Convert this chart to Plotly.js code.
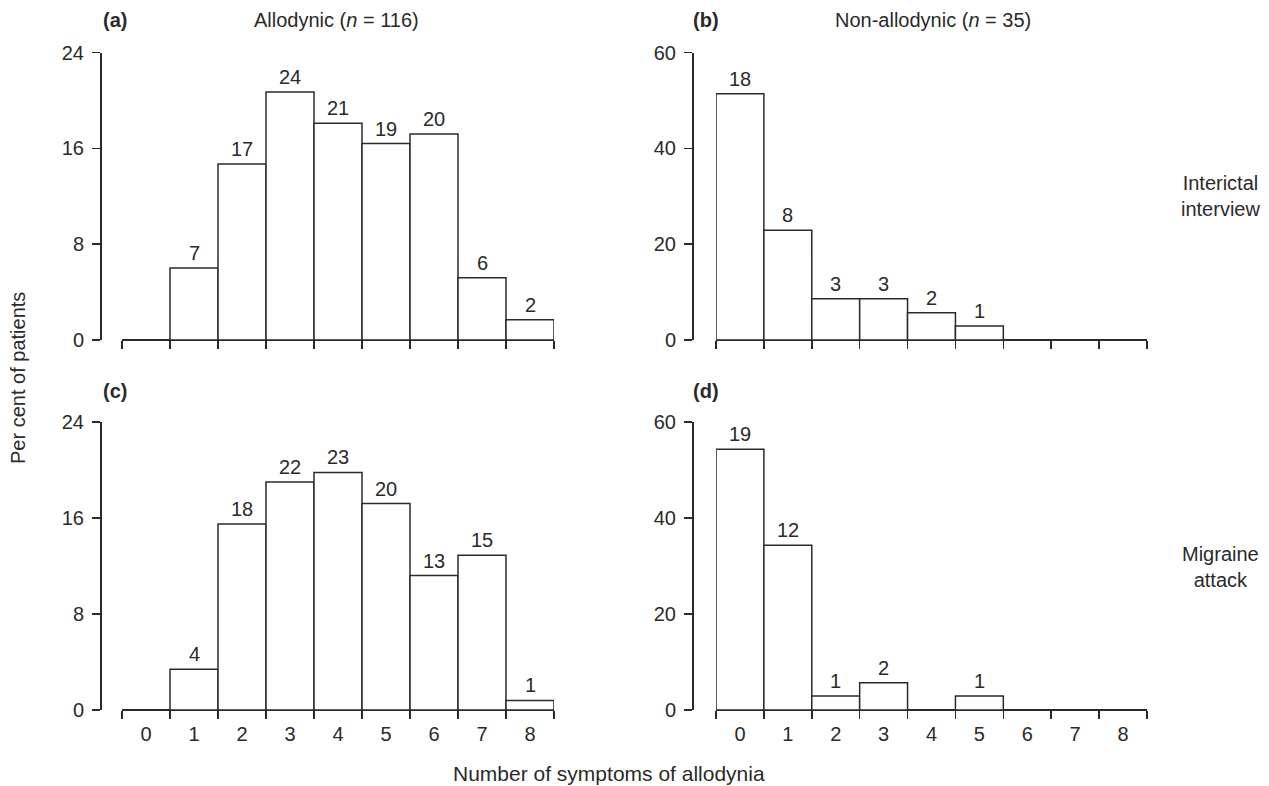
<!DOCTYPE html>
<html>
<head>
<meta charset="utf-8">
<script src="https://cdn.plot.ly/plotly-3.0.1.min.js"></script>
<style>html,body{margin:0;padding:0;background:#fff;}#chart{width:1269px;height:786px;}</style>
</head>
<body>
<div id="chart"></div>
<script>
// ---- data ----
const categories = [0, 1, 2, 3, 4, 5, 6, 7, 8];
const tickLabels = ['0', '1', '2', '3', '4', '5', '6', '7', '8'];
// percent of patients (bar heights)
const pctA = [0, 6.0, 14.7, 20.7, 18.1, 16.4, 17.2, 5.2, 1.7];   // allodynic, interictal
const pctB = [51.4, 22.9, 8.6, 8.6, 5.7, 2.9, 0, 0, 0];         // non-allodynic, interictal
const pctC = [0, 3.4, 15.5, 19.0, 19.8, 17.2, 11.2, 12.9, 0.8];  // allodynic, migraine attack
const pctD = [54.3, 34.3, 2.9, 5.7, 0, 2.9, 0, 0, 0];           // non-allodynic, migraine attack
// number of patients (labels above bars)
const cntA = [null, 7, 17, 24, 21, 19, 20, 6, 2];
const cntB = [18, 8, 3, 3, 2, 1, null, null, null];
const cntC = [null, 4, 18, 22, 23, 20, 13, 15, 1];
const cntD = [19, 12, 1, 2, null, 1, null, null, null];
const yTicksLeft = [0, 8, 16, 24];
const yTicksRight = [0, 20, 40, 60];
const panelLetters = ['(a)', '(b)', '(c)', '(d)'];
const colTitles = ['Allodynic (<i>n</i> = 116)', 'Non-allodynic (<i>n</i> = 35)'];
const rowTitles = ['Interictal<br>interview', 'Migraine<br>attack'];

// ---- layout helpers ----
const W = 1269, H = 786;
const px = x => x / W;
const py = y => 1 - y / H;
const INK = '#2a2a2a';
const FONT = 'Liberation Sans, Arial, Helvetica, sans-serif';

const panels = [
  {pct: pctA, cnt: cntA, xd: [122, 554], yaxX: 100, yd: [52.5, 340], ymax: 24, yt: yTicksLeft},
  {pct: pctB, cnt: cntB, xd: [716, 1147], yaxX: 692, yd: [52.5, 340], ymax: 60, yt: yTicksRight},
  {pct: pctC, cnt: cntC, xd: [122, 554], yaxX: 100, yd: [422, 710], ymax: 24, yt: yTicksLeft},
  {pct: pctD, cnt: cntD, xd: [716, 1147], yaxX: 692, yd: [422, 710], ymax: 60, yt: yTicksRight}
];

const edges = categories.map(c => c - 0.5).concat([categories[categories.length - 1] + 0.5]);

const data = [];
const layout = {
  width: W, height: H, autosize: false,
  margin: {l: 0, r: 0, t: 0, b: 0, pad: 0},
  paper_bgcolor: '#fff', plot_bgcolor: 'rgba(0,0,0,0)',
  showlegend: false,
  font: {family: FONT, size: 20, color: INK},
  annotations: [],
  bargap: 0
};

panels.forEach((p, i) => {
  const n = i + 1;
  const xa = 'x' + n, ya = 'y' + n;
  data.push({
    type: 'bar', x: categories, y: p.pct, width: 1,
    xaxis: xa, yaxis: ya,
    marker: {color: '#ffffff', line: {color: INK, width: 1.5}},
    hoverinfo: 'skip', cliponaxis: false
  });
  layout['xaxis' + n] = {
    domain: [px(p.xd[0]), px(p.xd[1])], anchor: ya,
    range: [-0.5, 8.5], fixedrange: true,
    tickmode: 'array', tickvals: edges, ticks: 'outside', ticklen: 8,
    tickwidth: 1.5, tickcolor: INK, showticklabels: false,
    showline: false, showgrid: false, zeroline: false
  };
  layout['yaxis' + n] = {
    domain: [py(p.yd[1]), py(p.yd[0])], anchor: 'free', position: px(p.yaxX),
    range: [0, p.ymax], fixedrange: true,
    tickmode: 'array', tickvals: p.yt, ticks: 'outside', ticklen: 8,
    tickwidth: 1.5, tickcolor: INK, ticklabelstandoff: 4,
    tickfont: {family: FONT, size: 20, color: INK},
    showline: true, linecolor: INK, linewidth: 1.5,
    showgrid: false, zeroline: true, zerolinecolor: INK, zerolinewidth: 1.5
  };
  // count labels above bars
  categories.forEach((c, k) => {
    if (p.cnt[k] === null) return;
    layout.annotations.push({
      xref: xa, yref: ya, x: c, y: p.pct[k], text: String(p.cnt[k]),
      showarrow: false, yanchor: 'bottom', xanchor: 'center', yshift: 2,
      font: {family: FONT, size: 20, color: INK}
    });
  });
  // panel letter
  layout.annotations.push({
    xref: 'paper', yref: 'paper', x: px(p.xd[0] === 122 ? 115 : 706), y: py(p.yd[0] === 52.5 ? 20 : 391),
    text: '<b>' + panelLetters[i] + '</b>', showarrow: false, xanchor: 'center', yanchor: 'middle',
    font: {family: FONT, size: 20, color: INK}
  });
});

// tick labels on bottom row via overlaying axes
[3, 4].forEach((n, j) => {
  const idx = 5 + j;
  data.push({type: 'scatter', x: [], y: [], xaxis: 'x' + idx, yaxis: 'y' + n, hoverinfo: 'skip'});
  layout['xaxis' + idx] = {
    overlaying: 'x' + n, anchor: 'y' + n, side: 'bottom',
    range: [-0.5, 8.5], fixedrange: true,
    tickmode: 'array', tickvals: categories, ticktext: tickLabels,
    ticks: 'outside', ticklen: 6, tickcolor: 'rgba(0,0,0,0)',
    tickfont: {family: FONT, size: 20, color: INK},
    showline: false, showgrid: false, zeroline: false
  };
});

// column titles
layout.annotations.push({xref: 'paper', yref: 'paper', x: px(336), y: py(20), text: colTitles[0],
  showarrow: false, xanchor: 'center', yanchor: 'middle'});
layout.annotations.push({xref: 'paper', yref: 'paper', x: px(933), y: py(20), text: colTitles[1],
  showarrow: false, xanchor: 'center', yanchor: 'middle'});
// row titles
layout.annotations.push({xref: 'paper', yref: 'paper', x: px(1220), y: py(196), text: rowTitles[0],
  showarrow: false, xanchor: 'center', yanchor: 'middle', align: 'center'});
layout.annotations.push({xref: 'paper', yref: 'paper', x: px(1220), y: py(567), text: rowTitles[1],
  showarrow: false, xanchor: 'center', yanchor: 'middle', align: 'center'});
// shared axis titles
layout.annotations.push({xref: 'paper', yref: 'paper', x: px(18), y: py(378), text: 'Per cent of patients',
  showarrow: false, xanchor: 'center', yanchor: 'middle', textangle: -90});
layout.annotations.push({xref: 'paper', yref: 'paper', x: px(609), y: py(773), text: 'Number of symptoms of allodynia',
  showarrow: false, xanchor: 'center', yanchor: 'middle', font: {family: FONT, size: 21, color: INK}});

Plotly.newPlot('chart', data, layout, {displayModeBar: false, staticPlot: true});
</script>
</body>
</html>
